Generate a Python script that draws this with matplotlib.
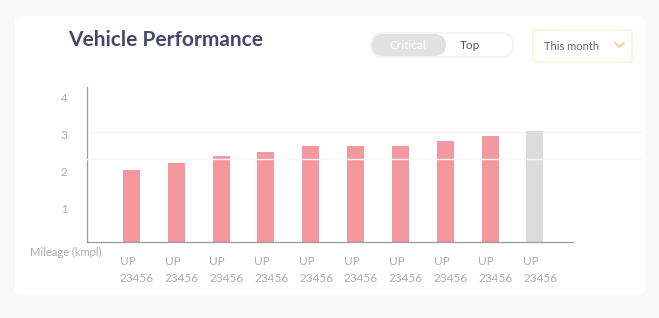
import numpy as np
import matplotlib.pyplot as plt
from matplotlib.patches import FancyBboxPatch
from matplotlib.transforms import offset_copy

# data
vehicles = ['UP\n23456'] * 10
mileage = [1.95, 2.13, 2.32, 2.43, 2.60, 2.60, 2.60, 2.73, 2.87, 3.00]
bar_colors = ['#f4979e'] * 9 + ['#dcdcdc']
y_ticks = [1, 2, 3, 4]

W, H = 659, 318
plt.rcParams['font.family'] = ['Lato', 'DejaVu Sans']

fig = plt.figure(figsize=(W / 100, H / 100), dpi=100)
fig.patch.set_facecolor('#f9f9f9')

# background layer in pixel coordinates (card, title, toggle, dropdown)
bg = fig.add_axes([0, 0, 1, 1], zorder=0)
bg.set_xlim(0, W)
bg.set_ylim(H, 0)
bg.axis('off')


def rbox(x0, y0, w, h, r, **kw):
    bg.add_patch(FancyBboxPatch((x0, y0), w, h,
                                boxstyle=f'round,pad=0,rounding_size={r}', **kw))


rbox(15, 16, 630, 279, 6, facecolor='white', edgecolor='none')

bg.text(68, 40, 'Vehicle Performance', fontsize=15, fontweight='bold',
        color='#47476b', va='center', ha='left')

# toggle Critical / Top
rbox(371, 33, 142, 24, 12, facecolor='white', edgecolor='#f0f0f0', linewidth=1)
rbox(372, 34, 74, 22, 11, facecolor='#e2e2e2', edgecolor='none')
bg.text(408, 45.5, 'Critical', fontsize=8.5, color='white', ha='center', va='center')
bg.text(470, 45.5, 'Top', fontsize=8.5, color='#555555', ha='center', va='center')

# dropdown
rbox(533, 30, 99, 32, 2, facecolor='white', edgecolor='#fbeecf', linewidth=1)
bg.text(544, 46, 'This month', fontsize=8, color='#666666', ha='left', va='center')
bg.plot([615, 619.5, 624], [43, 47, 43], color='#f6c46e', linewidth=1)

bg.text(66, 252, 'Mileage (kmpl)', fontsize=8, color='#ababab',
        ha='center', va='center')

# chart
ax = fig.add_axes([87 / W, 1 - 242 / H, 486 / W, (242 - 87) / H], zorder=1)
ax.set_facecolor('none')
x = np.arange(len(mileage))
ax.bar(x, mileage, width=0.38, color=bar_colors, zorder=2)

ax.set_xlim(-0.99, 9.85)
ax.set_ylim(0, (242 - 87) / 37)
ax.set_yticks(y_ticks)
ax.set_yticklabels([str(t) for t in y_ticks])
ax.set_xticks(x + 0.12)
ax.set_xticklabels(vehicles, multialignment='left', linespacing=1.65)
ax.tick_params(axis='both', length=0, labelsize=8.5, colors='#ababab')
ax.tick_params(axis='y', pad=14)
ax.tick_params(axis='x', pad=10)
for lab in ax.get_yticklabels():
    lab.set_transform(offset_copy(lab.get_transform(), fig=fig, y=-3, units='dots'))

for s in ['top', 'right']:
    ax.spines[s].set_visible(False)
for s in ['left', 'bottom']:
    ax.spines[s].set_color('#9a9a9a')
    ax.spines[s].set_linewidth(0.9)

# faint guide lines
ax.axhline(2.97, xmin=0, xmax=(640 - 87) / 486, color='#f4f4f4',
           linewidth=0.8, zorder=1, clip_on=False)
ax.axhline(2.24, xmin=0, xmax=(640 - 87) / 486, color='#f6f6f6',
           linewidth=1.0, zorder=3, clip_on=False)

fig.savefig('out.png', dpi=100, facecolor=fig.get_facecolor())
